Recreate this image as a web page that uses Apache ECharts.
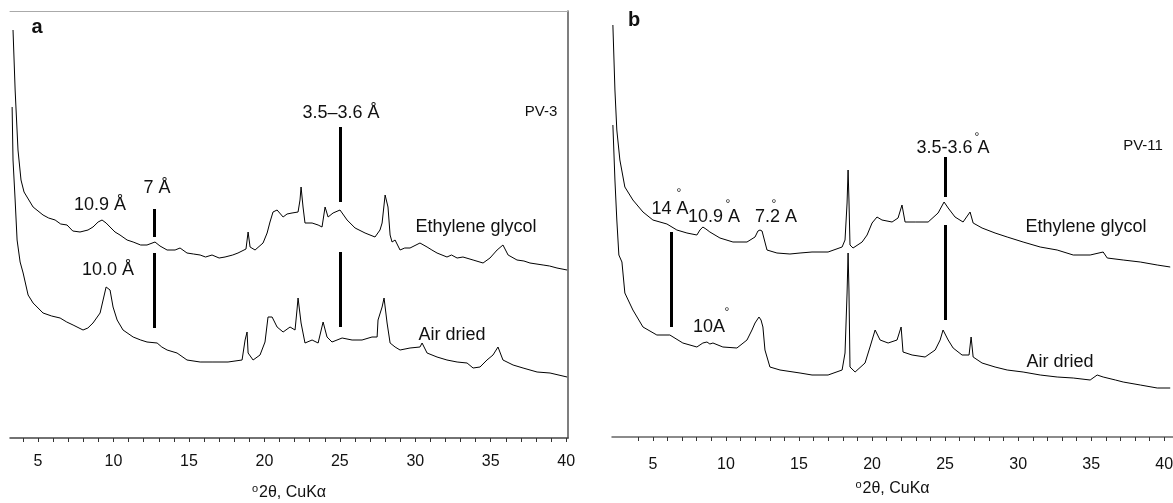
<!DOCTYPE html>
<html>
<head>
<meta charset="utf-8">
<script src="https://cdn.jsdelivr.net/npm/echarts@6/dist/echarts.min.js"></script>
<style>
  html, body { margin: 0; padding: 0; background: #fff; }
  #chart { width: 1173px; height: 503px; }
</style>
</head>
<body>
<div id="chart"></div>
<script>
// PV-3 (panel a): [°2θ, intensity]
const pv3Glycol = [
  [3.34, 408], [3.48, 348], [3.67, 288], [3.87, 258], [4.07, 246], [4.27, 241], [4.67, 231], [5.33, 223],
  [5.7, 220], [6.13, 218], [6.5, 214], [6.92, 213], [7.3, 207], [7.78, 206], [8.31, 208], [8.64, 211],
  [8.98, 216], [9.24, 218], [9.51, 215], [9.77, 211], [10.1, 206], [10.43, 203], [10.9, 198], [11.30, 196],
  [11.8, 193], [12.22, 193], [12.75, 196], [13.08, 192], [13.55, 188], [14.08, 188], [14.41, 190], [14.87, 185],
  [15.3, 184], [15.74, 183], [16.1, 181], [16.53, 183], [17.0, 180], [17.39, 181], [17.9, 183], [18.25, 185],
  [18.78, 189], [18.92, 206], [19.05, 191], [19.38, 188], [19.91, 195], [20.18, 205], [20.37, 216], [20.57, 226],
  [20.84, 228], [21.24, 221], [21.5, 224], [21.83, 225], [22.23, 226], [22.36, 238], [22.43, 251], [22.56, 231],
  [22.69, 215], [23.16, 215], [23.56, 213], [23.82, 211], [24.02, 231], [24.22, 221], [24.55, 225], [25.01, 228],
  [25.48, 218], [26.01, 210], [26.67, 205], [27.33, 201], [27.66, 208], [27.80, 215], [28.00, 243], [28.06, 241],
  [28.19, 231], [28.33, 203], [28.46, 196], [28.66, 198], [28.99, 188], [29.3, 190], [29.65, 190], [30.31, 195],
  [30.78, 191], [31.1, 188], [31.44, 185], [32.10, 181], [32.4, 183], [32.77, 180], [33.16, 181], [33.83, 178],
  [34.49, 175], [34.95, 180], [35.42, 188], [35.81, 193], [36.15, 183], [36.74, 178], [37.2, 177], [37.60, 175],
  [38.47, 173], [38.9, 172], [39.39, 170], [40.06, 168]
];
const pv3Air = [
  [3.28, 331], [3.34, 278], [3.48, 238], [3.61, 198], [3.81, 176], [4.01, 165], [4.34, 143], [4.67, 135],
  [5.33, 125], [5.9, 122], [6.46, 120], [6.9, 116], [7.32, 113], [7.98, 108], [8.3, 110], [8.64, 115],
  [9.11, 125], [9.31, 138], [9.51, 151], [9.64, 150], [9.77, 148], [9.97, 131], [10.24, 118], [10.63, 108],
  [11.30, 101], [11.8, 98], [12.22, 96], [12.89, 95], [13.2, 91], [13.55, 88], [14.21, 85], [14.87, 78],
  [15.74, 76], [16.53, 76], [17.59, 76], [18.52, 78], [18.72, 98], [18.85, 106], [18.92, 85], [19.25, 78],
  [19.71, 83], [20.04, 96], [20.24, 121], [20.51, 121], [20.84, 111], [21.24, 106], [21.70, 111], [22.03, 108],
  [22.16, 128], [22.23, 140], [22.43, 115], [22.69, 95], [23.16, 98], [23.56, 95], [23.89, 116], [24.15, 101],
  [24.48, 96], [25.15, 100], [25.81, 98], [26.47, 98], [27.13, 101], [27.47, 101], [27.53, 118], [27.80, 131],
  [27.93, 140], [28.13, 115], [28.33, 95], [28.66, 91], [28.99, 88], [29.65, 90], [30.31, 91], [30.45, 95],
  [30.78, 85], [31.44, 81], [32.10, 78], [32.77, 76], [33.43, 75], [33.83, 70], [34.29, 71], [34.75, 78],
  [35.15, 83], [35.48, 91], [35.81, 78], [36.48, 73], [37.14, 70], [38.07, 66], [38.93, 65], [40.06, 61]
];
// PV-11 (panel b)
const pv11Glycol = [
  [2.26, 412], [2.40, 347], [2.53, 307], [2.74, 277], [3.08, 250], [3.63, 237], [4.32, 225], [5.00, 217],
  [5.96, 213], [6.64, 207], [7.33, 204], [8.01, 202], [8.22, 207], [8.42, 210], [8.63, 208], [8.90, 205],
  [9.59, 199], [10.48, 195], [11.44, 195], [11.99, 200], [12.19, 206], [12.33, 207], [12.47, 206], [12.53, 204],
  [12.81, 187], [13.49, 184], [14.38, 183], [15.07, 184], [15.89, 185], [16.99, 185], [17.95, 190], [18.15, 197],
  [18.29, 234], [18.36, 267], [18.42, 237], [18.49, 192], [18.70, 189], [19.32, 195], [19.66, 202], [20.00, 214],
  [20.34, 220], [20.68, 217], [21.37, 215], [21.78, 219], [22.05, 232], [22.26, 215], [22.95, 215], [23.84, 215],
  [24.52, 224], [24.93, 235], [25.21, 229], [25.68, 220], [26.23, 215], [26.71, 225], [26.92, 214], [27.53, 209],
  [28.42, 204], [29.25, 200], [30.34, 195], [31.51, 190], [32.67, 187], [33.77, 182], [34.93, 182], [35.82, 185],
  [36.10, 179], [37.19, 177], [38.36, 175], [39.52, 172], [40.41, 170]
];
const pv11Air = [
  [2.26, 312], [2.40, 257], [2.53, 217], [2.67, 182], [2.88, 175], [3.08, 144], [3.63, 127], [4.32, 110],
  [5.27, 102], [6.16, 102], [7.05, 94], [8.01, 90], [8.42, 94], [8.70, 95], [8.90, 93], [9.11, 94],
  [9.79, 90], [10.75, 89], [11.44, 97], [11.78, 107], [11.99, 114], [12.26, 120], [12.40, 117], [12.53, 110],
  [12.67, 87], [13.01, 70], [13.70, 67], [15.07, 64], [15.89, 62], [16.99, 62], [17.95, 67], [18.15, 84],
  [18.29, 144], [18.36, 184], [18.42, 147], [18.49, 70], [18.84, 65], [19.52, 74], [19.86, 90], [20.21, 107],
  [20.55, 97], [21.10, 94], [21.71, 97], [21.99, 110], [22.12, 85], [22.74, 82], [23.63, 80], [24.32, 87],
  [24.66, 97], [24.86, 107], [25.21, 97], [25.55, 89], [26.16, 82], [26.64, 82], [26.78, 100], [26.92, 80],
  [27.53, 74], [28.42, 70], [29.25, 67], [30.34, 65], [31.51, 62], [32.67, 60], [33.77, 59], [34.93, 57],
  [35.41, 62], [35.82, 60], [36.66, 57], [37.19, 55], [38.36, 52], [39.52, 49], [40.41, 49]
];
// peak marker bars: [°2θ, from, to]
const pv3Marks = [[12.69, 201, 229], [12.69, 110, 185], [25.01, 236, 311], [25.01, 111, 186]];
const pv11Marks = [[6.23, 110, 205], [25.0, 240, 280], [25.0, 117, 212]];
const tickLabels = [5, 10, 15, 20, 25, 30, 35, 40];
const minorTicks = [4, 5, 6, 7, 8, 9, 10, 11, 12, 13, 14, 15, 16, 17, 18, 19, 20, 21, 22, 23, 24, 25, 26, 27, 28, 29, 30, 31, 32, 33, 34, 35, 36, 37, 38, 39, 40];

const FONT = '"Liberation Sans", Arial, sans-serif';
const chart = echarts.init(document.getElementById('chart'));

function xAx(grid, min, max, color, labelGap, titleGap) {
  return {
    type: 'value', gridIndex: grid, min: min, max: max,
    splitLine: { show: false },
    axisLine: { lineStyle: { color: color, width: 1.5 } },
    axisTick: { customValues: minorTicks, length: 4, lineStyle: { color: '#333' } },
    axisLabel: { customValues: tickLabels, margin: labelGap, fontSize: 16, color: '#111', fontFamily: FONT },
    name: '{s|o}2θ, CuKα', nameLocation: 'middle', nameGap: titleGap,
    nameTextStyle: { fontSize: 16, color: '#111', fontFamily: FONT,
      rich: { s: { fontSize: 11, verticalAlign: 'top', padding: [0, 1, 8, 0], fontFamily: FONT } } }
  };
}
function yAx(grid, pos, showLine) {
  return {
    type: 'value', gridIndex: grid, min: 0, max: 427, position: pos,
    splitLine: { show: false }, axisTick: { show: false }, axisLabel: { show: false },
    axisLine: { show: showLine, lineStyle: { color: '#555', width: 1.5 } }
  };
}
function marks(list) {
  return {
    silent: true, symbol: ['none', 'none'], label: { show: false },
    lineStyle: { color: '#000', width: 3, type: 'solid' },
    data: list.map(m => [{ coord: [m[0], m[1]] }, { coord: [m[0], m[2]] }])
  };
}
function curve(data, xi, mk) {
  const s = {
    type: 'line', data: data, xAxisIndex: xi, yAxisIndex: xi, showSymbol: false,
    lineStyle: { color: '#000', width: 1 }, animation: false
  };
  if (mk) s.markLine = mk;
  return s;
}
function txt(x, y, text, size, weight) {
  return { type: 'text', x: x, y: y, style: { text: text, fill: '#111',
    font: (weight || 'normal') + ' ' + size + 'px ' + FONT, align: 'center', verticalAlign: 'middle' } };
}

chart.setOption({
  animation: false,
  grid: [
    { left: 10, top: 11, width: 558, height: 427, outerBoundsMode: 'none' },
    { left: 612, top: 10, width: 561, height: 427, outerBoundsMode: 'none' }
  ],
  xAxis: [
    xAx(0, 3.14, 40.12, '#444', 16, 45),
    xAx(1, 2.2, 40.6, '#666', 20, 42),
    { type: 'value', gridIndex: 0, position: 'top', min: 3.14, max: 40.12,
      axisLine: { lineStyle: { color: '#aaa', width: 1 } }, axisTick: { show: false },
      axisLabel: { show: false }, splitLine: { show: false } }
  ],
  yAxis: [yAx(0, 'right', true), yAx(1, 'left', false)],
  series: [
    curve(pv3Glycol, 0, marks(pv3Marks)),
    curve(pv3Air, 0),
    curve(pv11Glycol, 1, marks(pv11Marks)),
    curve(pv11Air, 1)
  ],
  graphic: [
    txt(37, 27, 'a', 20, 'bold'),
    txt(541, 112, 'PV-3', 15),
    txt(341, 113, '3.5–3.6 Å', 18),
    txt(100, 205, '10.9 Å', 18),
    txt(157, 188, '7 Å', 18),
    txt(108, 270, '10.0 Å', 18),
    txt(476, 227, 'Ethylene glycol', 18),
    txt(452, 335, 'Air dried', 18),
    txt(634, 20, 'b', 20, 'bold'),
    txt(1143, 146, 'PV-11', 15),
    txt(953, 148, '3.5-3.6 A', 18),
    txt(977, 138, '°', 12),
    txt(670, 209, '14 A', 18),
    txt(679, 194, '°', 12),
    txt(714, 217, '10.9 A', 18),
    txt(728, 205, '°', 12),
    txt(776, 217, '7.2 A', 18),
    txt(774, 205, '°', 12),
    txt(709, 327, '10A', 18),
    txt(727, 313, '°', 12),
    txt(1086, 227, 'Ethylene glycol', 18),
    txt(1060, 362, 'Air dried', 18)
  ]
});
</script>
</body>
</html>
